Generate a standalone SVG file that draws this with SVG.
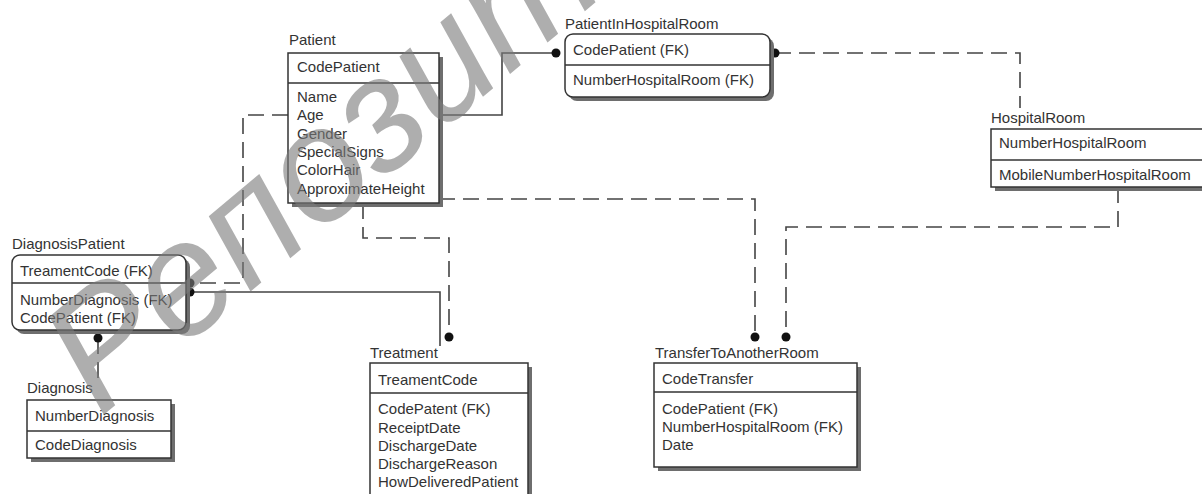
<svg xmlns="http://www.w3.org/2000/svg" width="1202" height="494" viewBox="0 0 1202 494">
<style>
text{font-family:"Liberation Sans",Arial,sans-serif;font-size:15px;fill:#333}
.box{fill:#fff;stroke:#333;stroke-width:1.5}
.sh{fill:#6e6e6e}
.sep{stroke:#333;stroke-width:1.5}
.c{fill:none;stroke:#444;stroke-width:1.6}
.d{stroke-dasharray:16 8}
.dot{fill:#111}
.wm{font-family:"Liberation Sans",Arial,sans-serif;font-size:160px;font-style:italic;fill:#7a7a7a;opacity:0.6}
</style>
<rect width="1202" height="494" fill="#fff"/>
<g id="connectors">
<path class="c" d="M439,115 H502 V53 H556"/>
<circle class="dot" cx="556" cy="53" r="4.5"/>
<path class="c d" d="M775,53 H1020 V108"/>
<circle class="dot" cx="775" cy="53" r="4.5"/>
<path class="c d" d="M288,115 H243 V283 H190"/>
<circle class="dot" cx="190" cy="283" r="4.5"/>
<path class="c" d="M190,292 H440 V346"/>
<circle class="dot" cx="190" cy="292" r="4.5"/>
<path class="c d" d="M363,203 V238 H449 V337"/>
<circle class="dot" cx="449" cy="337" r="4.5"/>
<path class="c d" d="M439,199 H755 V337"/>
<circle class="dot" cx="755" cy="337" r="4.5"/>
<path class="c d" d="M1118,187 V227 H786 V337"/>
<circle class="dot" cx="786" cy="337" r="4.5"/>
<path class="c d" d="M98,338 V384"/>
<circle class="dot" cx="98" cy="338" r="4.5"/>
</g>
<g id="Patient">
<text x="289" y="45">Patient</text>
<rect class="sh" x="292" y="57" width="151" height="150"/>
<rect class="box" x="288" y="53" width="151" height="150"/>
<line class="sep" x1="288" y1="83" x2="439" y2="83"/>
<text x="297" y="72">CodePatient</text>
<text x="297" y="102">Name</text>
<text x="297" y="120.3">Age</text>
<text x="297" y="138.6">Gender</text>
<text x="297" y="156.9">SpecialSigns</text>
<text x="297" y="175.2">ColorHair</text>
<text x="297" y="193.5">ApproximateHeight</text>
</g>
<g id="PatientInHospitalRoom">
<text x="565" y="29">PatientInHospitalRoom</text>
<rect class="sh" x="569" y="38" width="205" height="63" rx="8"/>
<rect class="box" x="565" y="34" width="205" height="63" rx="8"/>
<line class="sep" x1="565" y1="65" x2="770" y2="65"/>
<text x="573" y="55">CodePatient (FK)</text>
<text x="573" y="85">NumberHospitalRoom (FK)</text>
</g>
<g id="HospitalRoom">
<text x="991" y="123">HospitalRoom</text>
<rect class="sh" x="995" y="133" width="220" height="58"/>
<rect class="box" x="991" y="129" width="220" height="58"/>
<line class="sep" x1="991" y1="160" x2="1211" y2="160"/>
<text x="999" y="148">NumberHospitalRoom</text>
<text x="999" y="180">MobileNumberHospitalRoom</text>
</g>
<g id="DiagnosisPatient">
<text x="12" y="249">DiagnosisPatient</text>
<rect class="sh" x="16" y="259" width="174" height="75" rx="8"/>
<rect class="box" x="12" y="255" width="174" height="75" rx="8"/>
<line class="sep" x1="12" y1="283" x2="186" y2="283"/>
<text x="20" y="276">TreamentCode (FK)</text>
<text x="20" y="305">NumberDiagnosis (FK)</text>
<text x="20" y="323">CodePatient (FK)</text>
</g>
<g id="Diagnosis">
<text x="27" y="393">Diagnosis</text>
<rect class="sh" x="31" y="404" width="144" height="58"/>
<rect class="box" x="27" y="400" width="144" height="58"/>
<line class="sep" x1="27" y1="431" x2="171" y2="431"/>
<text x="35" y="421">NumberDiagnosis</text>
<text x="35" y="450">CodeDiagnosis</text>
</g>
<g id="Treatment">
<text x="370" y="358">Treatment</text>
<rect class="sh" x="374" y="367" width="158" height="140"/>
<rect class="box" x="370" y="363" width="158" height="140"/>
<line class="sep" x1="370" y1="393" x2="528" y2="393"/>
<text x="378" y="385">TreamentCode</text>
<text x="378" y="414">CodePatent (FK)</text>
<text x="378" y="433">ReceiptDate</text>
<text x="378" y="450.5">DischargeDate</text>
<text x="378" y="468.5">DischargeReason</text>
<text x="378" y="487">HowDeliveredPatient</text>
</g>
<g id="TransferToAnotherRoom">
<text x="655" y="358">TransferToAnotherRoom</text>
<rect class="sh" x="658" y="367" width="203" height="104"/>
<rect class="box" x="654" y="363" width="203" height="104"/>
<line class="sep" x1="654" y1="392" x2="857" y2="392"/>
<text x="662" y="384">CodeTransfer</text>
<text x="662" y="414">CodePatient (FK)</text>
<text x="662" y="432">NumberHospitalRoom (FK)</text>
<text x="662" y="450">Date</text>
</g>
<g id="watermark">
<text class="wm" x="100" y="418" transform="rotate(-40 100 418)">Репозит</text>
</g>
</svg>
